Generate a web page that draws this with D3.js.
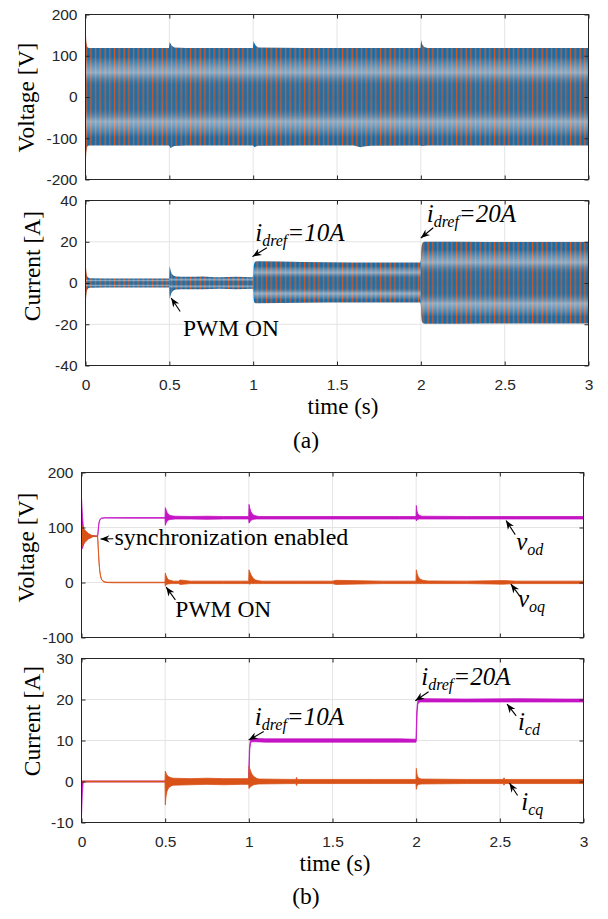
<!DOCTYPE html>
<html>
<head>
<meta charset="utf-8">
<script src="https://cdn.jsdelivr.net/npm/d3@7/dist/d3.min.js"></script>
<style>
  html, body { margin: 0; padding: 0; background: #fff; }
  svg { display: block; }
</style>
</head>
<body>
<svg id="fig" width="608" height="919"></svg>
<script>
// ---------- data ----------
const timeTicks  = [0, 0.5, 1, 1.5, 2, 2.5, 3];
const voltTicksA = [-200, -100, 0, 100, 200];
const currTicksA = [-40, -20, 0, 20, 40];
const voltTicksB = [-100, 0, 100, 200];
const currTicksB = [-10, 0, 10, 20, 30];

// (a) three-phase output voltage: envelope of the 50 Hz waveform (V)
const voltA_t  = [0, 0.005, 0.01, 0.02, 0.25, 0.498, 0.502, 0.508, 0.515, 0.53, 0.6, 0.8, 0.998, 1.002, 1.008, 1.015, 1.03, 1.3, 1.6, 1.64, 1.66, 1.7, 1.998, 2.002, 2.008, 2.02, 2.04, 2.5, 3.0];
const voltA_hi = [168, 135, 121, 118.5, 118.5, 118.5, 133, 129, 124, 120, 118.5, 118.5, 118.5, 135, 130, 125, 120, 118.5, 118.5, 118.5, 118.5, 118.5, 118.5, 138, 128, 121, 119, 118.5, 118.5];
const voltA_lo = [-168, -135, -120, -117.5, -117.5, -117.5, -120, -124, -122, -119, -117.5, -117.5, -117.5, -119, -122, -120, -118, -117.5, -117.5, -122, -120, -118, -117.5, -118, -119, -118, -117.5, -117.5, -117.5];
const voltA_stageStart = [0];
const voltA_stageAmp   = [118];

// (a) three-phase output current: envelope (A)
const curA_t  = [0, 0.005, 0.012, 0.025, 0.2, 0.498, 0.502, 0.508, 0.52, 0.54, 0.6, 0.7, 0.8, 0.9, 0.996, 1.0, 1.003, 1.008, 1.015, 1.03, 1.3, 1.6, 1.9, 1.996, 2.0, 2.003, 2.008, 2.016, 2.03, 2.4, 2.8, 3.0];
const curA_hi = [11, 6, 3, 2.3, 2.2, 2.2, 8, 6, 4, 3.2, 3, 3.2, 2.8, 3, 2.8, 3.5, 8, 9.8, 10.4, 10.5, 10.2, 10, 10, 10, 11, 16, 19, 19.9, 20, 19.9, 19.9, 19.9];
const curA_lo = [-11.5, -6, -3, -2.3, -2.2, -2.2, -7.5, -6, -4, -3.2, -3, -3, -2.8, -3, -2.8, -3.5, -8, -9.5, -9.8, -9.8, -9.6, -9.5, -9.5, -9.5, -10.5, -16, -19, -19.6, -19.8, -19.6, -19.6, -19.6];
const curA_stageStart = [0, 0.5, 1, 2];
const curA_stageAmp   = [2.2, 3, 9.9, 19.8];

// (b) dq voltages (V): upper / lower edge of each trace
const vod_t  = [0, 0.006, 0.012, 0.02, 0.035, 0.05, 0.065, 0.096, 0.099, 0.102, 0.106, 0.111, 0.12, 0.14, 0.3, 0.499, 0.501, 0.506, 0.512, 0.52, 0.53, 0.545, 0.56, 0.65, 0.75, 0.85, 0.95, 0.999, 1.001, 1.006, 1.012, 1.02, 1.03, 1.045, 1.06, 1.3, 1.6, 1.9, 1.999, 2.001, 2.005, 2.01, 2.02, 2.035, 2.3, 2.6, 2.9, 3.0];
const vod_hi = [155, 120, 98, 92, 88, 86, 85, 84.6, 92, 103, 111, 115, 117.2, 117.8, 118, 118, 136, 132, 127, 124, 122, 121, 120.5, 120, 120.5, 120, 120, 120, 142, 135, 129, 125, 122.5, 121, 120, 120, 120, 120, 120, 140, 130, 125, 122, 120.5, 120, 120, 120, 120];
const vod_lo = [60, 62, 68, 75, 80, 82, 83.5, 83.6, 91, 102, 110, 114.5, 116.7, 117.2, 117, 117, 104, 108, 112, 113.5, 114.5, 115, 115.5, 115.5, 115, 115.5, 115.5, 115.5, 108, 110, 113, 114, 115, 115.5, 115.5, 115.5, 115.5, 115.5, 115.5, 112, 114, 115, 115.5, 115.5, 115.5, 115.5, 115.5, 115.5];

const voq_t  = [0, 0.003, 0.012, 0.024, 0.042, 0.06, 0.072, 0.096, 0.099, 0.102, 0.105, 0.109, 0.114, 0.12, 0.13, 0.145, 0.165, 0.2, 0.499, 0.501, 0.505, 0.512, 0.52, 0.535, 0.55, 0.58, 0.59, 0.65, 0.75, 0.85, 0.95, 0.999, 1.001, 1.006, 1.015, 1.025, 1.04, 1.06, 1.08, 1.3, 1.5, 1.52, 1.8, 1.999, 2.001, 2.005, 2.012, 2.022, 2.04, 2.07, 2.3, 2.52, 2.6, 2.9, 3.0];
const voq_hi = [105, 104, 98, 94, 89, 86, 84.8, 84.5, 70, 52, 36, 22, 12, 6, 2.5, 0.9, 0.5, 0.5, 0.5, 17, 13, 8, 5, 3.5, 2.5, 2.5, 4.5, 2.5, 2.5, 2.5, 2.5, 2.5, 23, 19, 13, 8, 4.5, 3, 2.5, 2.5, 2.5, 4, 2.5, 2.5, 23, 17, 11, 6.5, 4, 2.8, 2.5, 3.5, 2.5, 2.5, 2.5];
const voq_lo = [60, 65, 70, 74, 79, 82, 83.8, 83.5, 69, 51, 35, 21, 11, 5, 1.5, 0, -0.3, -0.5, -0.5, -7, -4, -3, -2.5, -2, -2, -2, -3.5, -2, -2, -2, -2, -2, -3, -2.5, -2, -2, -2, -2, -2, -2, -2, -3.5, -2, -2, -2, -2, -2, -2, -2, -2, -2, -3, -2, -2, -2];

// (b) dq currents (A): upper / lower edge of each trace
const icd_t  = [0, 0.005, 0.01, 0.5, 0.6, 0.8, 0.999, 1.001, 1.003, 1.006, 1.01, 1.016, 1.025, 1.04, 1.1, 1.3, 1.6, 1.9, 1.999, 2.001, 2.003, 2.006, 2.01, 2.016, 2.025, 2.04, 2.3, 2.6, 2.9, 3.0];
const icd_hi = [0.1, 0.1, 0.1, 0.1, 0.5, 0.5, 0.5, 4, 7.5, 9.2, 10.1, 10.5, 10.6, 10.5, 10.4, 10.4, 10.4, 10.4, 10.3, 13, 16.5, 18.5, 19.6, 20.1, 20.2, 20.2, 20.1, 20.2, 20.1, 20.1];
const icd_lo = [-8.5, -3, -0.1, -0.1, -0.5, -0.5, -0.5, 0.5, 5, 8, 9.3, 9.7, 9.7, 9.7, 9.6, 9.6, 9.6, 9.6, 9.6, 10, 13, 17, 18.8, 19.3, 19.4, 19.4, 19.4, 19.4, 19.4, 19.4];

const icq_t  = [0, 0.499, 0.501, 0.504, 0.51, 0.52, 0.535, 0.55, 0.65, 0.75, 0.85, 0.95, 0.999, 1.001, 1.005, 1.012, 1.02, 1.03, 1.045, 1.06, 1.28, 1.285, 1.29, 1.75, 1.999, 2.001, 2.004, 2.008, 2.015, 2.03, 2.3, 2.52, 2.525, 2.53, 3.0];
const icq_hi = [0.1, 0.1, 2.5, 2.2, 1.6, 1.2, 0.9, 0.8, 0.7, 0.8, 0.7, 0.7, 0.7, 3.8, 3.2, 2.4, 1.7, 1.2, 0.8, 0.6, 0.5, 1.0, 0.5, 0.5, 0.5, 3.2, 2, 1.3, 0.8, 0.6, 0.5, 0.5, 0.9, 0.5, 0.5];
const icq_lo = [-0.1, -0.1, -5.7, -4, -2.5, -1.6, -1.1, -0.9, -0.8, -0.7, -0.8, -0.7, -0.7, -1.7, -1.5, -1.2, -1, -0.8, -0.7, -0.6, -0.5, -1.0, -0.5, -0.5, -0.5, -1.9, -1.3, -0.9, -0.7, -0.6, -0.5, -0.5, -0.9, -0.5, -0.5];

// ---------- drawing ----------
const svg = d3.select("#fig");
svg.append("rect").attr("width", 608).attr("height", 919).attr("fill", "#fff");
const defs = svg.append("defs");

const C = { blue: "#0072bd", orange: "#d95319", magenta: "#c414c4", axis: "#262626", grid: "#e4e4e4" };
const sansFont = "'Liberation Sans', Arial, Helvetica, sans-serif";
const serifFont = "'Liberation Serif', 'Times New Roman', Times, serif";

// arrow head (MATLAB-like swept head)
defs.append("marker")
  .attr("id", "head").attr("viewBox", "-10 -5 11 10")
  .attr("refX", 0).attr("refY", 0)
  .attr("markerWidth", 11).attr("markerHeight", 10)
  .attr("markerUnits", "userSpaceOnUse").attr("orient", "auto")
  .append("path").attr("d", "M0,0L-9,-3.6L-6.2,0L-9,3.6Z").attr("fill", "#000");

// dense carrier texture: interleaved blue / orange phase strokes
const carrier = defs.append("pattern").attr("id", "carrier")
  .attr("patternUnits", "userSpaceOnUse").attr("width", 19).attr("height", 8);
carrier.append("rect").attr("width", 19).attr("height", 8).attr("fill", "#3d6b93");
[[2.2, 1.6], [7.0, 1.6], [11.9, 1.6], [16.6, 1.6]].forEach(([x, w]) =>
  carrier.append("rect").attr("x", x).attr("width", w).attr("height", 8).attr("fill", C.blue));
[[0, 1.1], [4.6, 1.0], [9.7, 1.1], [14.3, 1.0]].forEach(([x, w]) =>
  carrier.append("rect").attr("x", x).attr("width", w).attr("height", 8).attr("fill", C.orange));

// vertical shading of the band (light rings at half amplitude)
const shadeStops = [
  [0, "#ffffff", 0], [0.09, "#ffffff", 0], [0.25, "#dde5ee", 0.55],
  [0.38, "#6b7f93", 0.12], [0.5, "#56677a", 0.28], [0.62, "#6b7f93", 0.12],
  [0.75, "#dde5ee", 0.55], [0.91, "#ffffff", 0], [1, "#ffffff", 0]
];

const panels = [];
function makePanel(cfg) {
  const x = d3.scaleLinear().domain([0, 3]).range([cfg.left, cfg.right]);
  const y = d3.scaleLinear().domain(cfg.yDomain).range([cfg.bottom, cfg.top]);
  const grid = svg.append("g");
  grid.selectAll("line.gx").data(timeTicks.slice(1, -1)).join("line")
    .attr("x1", d => x(d)).attr("x2", d => x(d))
    .attr("y1", cfg.top).attr("y2", cfg.bottom)
    .attr("stroke", C.grid).attr("stroke-width", 1);
  grid.selectAll("line.gy").data(cfg.yTicks.slice(1, -1)).join("line")
    .attr("y1", d => y(d)).attr("y2", d => y(d))
    .attr("x1", cfg.left).attr("x2", cfg.right)
    .attr("stroke", C.grid).attr("stroke-width", 1);

  const clipId = "clip-" + cfg.id;
  defs.append("clipPath").attr("id", clipId).append("rect")
    .attr("x", cfg.left).attr("y", cfg.top)
    .attr("width", cfg.right - cfg.left).attr("height", cfg.bottom - cfg.top);
  const plot = svg.append("g").attr("clip-path", `url(#${clipId})`);

  const frame = svg.append("g");
  const styleAxis = g => {
    g.select(".domain").remove();
    g.attr("font-family", sansFont).attr("font-size", 15.5);
    g.selectAll("line").attr("stroke", C.axis);
    g.selectAll("text").attr("fill", C.axis);
  };
  frame.append("g").attr("transform", `translate(0,${cfg.bottom})`)
    .call(d3.axisBottom(x).tickValues(timeTicks).tickSizeInner(-4).tickSizeOuter(0)
      .tickPadding(13.5).tickFormat(d => cfg.xLabels ? String(d) : ""))
    .call(styleAxis);
  frame.append("g").attr("transform", `translate(0,${cfg.top})`)
    .call(d3.axisTop(x).tickValues(timeTicks).tickSizeInner(-4).tickSizeOuter(0).tickFormat(() => ""))
    .call(styleAxis);
  frame.append("g").attr("transform", `translate(${cfg.left},0)`)
    .call(d3.axisLeft(y).tickValues(cfg.yTicks).tickSizeInner(-4).tickSizeOuter(0)
      .tickPadding(8).tickFormat(d => String(d)))
    .call(styleAxis);
  frame.append("g").attr("transform", `translate(${cfg.right},0)`)
    .call(d3.axisRight(y).tickValues(cfg.yTicks).tickSizeInner(-4).tickSizeOuter(0).tickFormat(() => ""))
    .call(styleAxis);
  frame.append("rect")
    .attr("x", cfg.left).attr("y", cfg.top)
    .attr("width", cfg.right - cfg.left).attr("height", cfg.bottom - cfg.top)
    .attr("fill", "none").attr("stroke", C.axis).attr("stroke-width", 1);

  frame.append("text")
    .attr("transform", `translate(${cfg.ylabelX},${cfg.ylabelY}) rotate(-90)`)
    .attr("text-anchor", "middle").attr("font-family", serifFont).attr("font-size", 23.5)
    .attr("fill", "#000").text(cfg.ylabel);

  const p = { x, y, plot, frame, cfg };
  panels.push(p);
  return p;
}

const pA1 = makePanel({ id: "a1", left: 85.5, right: 588.5, top: 14.5, bottom: 179.5,
  yDomain: [-200, 200], yTicks: voltTicksA, xLabels: false,
  ylabel: "Voltage [V]", ylabelX: 33.5, ylabelY: 97.5 });
const pA2 = makePanel({ id: "a2", left: 85.5, right: 588.5, top: 200.5, bottom: 365.5,
  yDomain: [-40, 40], yTicks: currTicksA, xLabels: true,
  ylabel: "Current [A]", ylabelX: 39.5, ylabelY: 266 });
const pB1 = makePanel({ id: "b1", left: 81.5, right: 583.5, top: 472.5, bottom: 637.5,
  yDomain: [-100, 200], yTicks: voltTicksB, xLabels: false,
  ylabel: "Voltage [V]", ylabelX: 33.5, ylabelY: 547.5 });
const pB2 = makePanel({ id: "b2", left: 81.5, right: 583.5, top: 658.5, bottom: 822.5,
  yDomain: [-10, 30], yTicks: currTicksB, xLabels: true,
  ylabel: "Current [A]", ylabelX: 40, ylabelY: 721 });

// textured band for the dense three-phase waveforms
function carrierBand(p, id, t, hi, lo, stageStart, stageAmp, curve) {
  const area = d3.area()
    .x((d, i) => p.x(t[i])).y0((d, i) => p.y(lo[i])).y1((d, i) => p.y(hi[i]))
    .curve(curve);
  const dPath = area(t);
  stageStart.forEach((from, k) => {
    const to = k + 1 < stageStart.length ? stageStart[k + 1] : 3;
    const cid = `${id}-stage${k}`;
    defs.append("clipPath").attr("id", cid).append("rect")
      .attr("x", p.x(from) - (k ? 0 : 2)).attr("width", p.x(to) - p.x(from) + (k ? 0 : 2))
      .attr("y", p.cfg.top).attr("height", p.cfg.bottom - p.cfg.top);
    const gid = `${id}-shade${k}`;
    const grad = defs.append("linearGradient").attr("id", gid)
      .attr("gradientUnits", "userSpaceOnUse")
      .attr("x1", 0).attr("x2", 0)
      .attr("y1", p.y(stageAmp[k])).attr("y2", p.y(-stageAmp[k]));
    shadeStops.forEach(([o, c, a]) =>
      grad.append("stop").attr("offset", o).attr("stop-color", c).attr("stop-opacity", a));
    const g = p.plot.append("g").attr("clip-path", `url(#${cid})`);
    g.append("path").attr("d", dPath).attr("fill", "url(#carrier)");
    g.append("path").attr("d", dPath).attr("fill", `url(#${gid})`);
  });
}

// noisy dq trace drawn as a filled band between its edges
function trace(p, t, hi, lo, color, curve) {
  const area = d3.area()
    .x((d, i) => p.x(t[i])).y0((d, i) => p.y(lo[i])).y1((d, i) => p.y(hi[i]))
    .curve(curve || d3.curveLinear);
  p.plot.append("path").attr("d", area(t))
    .attr("fill", color).attr("stroke", color).attr("stroke-width", 0.8)
    .attr("stroke-linejoin", "round");
}

carrierBand(pA1, "va", voltA_t, voltA_hi, voltA_lo, voltA_stageStart, voltA_stageAmp, d3.curveLinear);
carrierBand(pA2, "ia", curA_t, curA_hi, curA_lo, curA_stageStart, curA_stageAmp, d3.curveMonotoneX);

trace(pB1, vod_t, vod_hi, vod_lo, C.magenta);
trace(pB1, voq_t, voq_hi, voq_lo, C.orange);
trace(pB2, icd_t, icd_hi, icd_lo, C.magenta);
trace(pB2, icq_t, icq_hi, icq_lo, C.orange);

// ---------- annotations ----------
function richText(layer, x, y, parts, size) {
  const t = layer.append("text").attr("x", x).attr("y", y)
    .attr("font-family", serifFont).attr("font-size", size).attr("fill", "#000");
  let shift = 0;
  parts.forEach(([s, kind]) => {
    const sp = t.append("tspan").text(s);
    if (kind === "sub") {
      sp.attr("font-size", size * 0.64).attr("font-style", "italic").attr("dy", 5 - shift);
      shift = 5;
    } else {
      if (shift) { sp.attr("dy", -shift); shift = 0; }
      if (kind === "i") sp.attr("font-style", "italic");
    }
  });
}
function note(p, n) {
  const layer = svg.append("g");
  if (n.tip) {
    layer.append("line")
      .attr("x1", p.x(n.tail[0])).attr("y1", p.y(n.tail[1]))
      .attr("x2", p.x(n.tip[0])).attr("y2", p.y(n.tip[1]))
      .attr("stroke", "#000").attr("stroke-width", 1.1)
      .attr("marker-end", "url(#head)");
  }
  richText(layer, p.x(n.at[0]), p.y(n.at[1]), n.parts, n.size || 24);
}

const idref10 = [["i", "i"], ["dref", "sub"], ["=10A", "i"]];
const idref20 = [["i", "i"], ["dref", "sub"], ["=20A", "i"]];

note(pA2, { parts: [["PWM ON", "n"]], at: [0.581, -25.9], tip: [0.511, -7.3], tail: [0.565, -13.8], size: 23.5 });
note(pA2, { parts: idref10, at: [1.012, 20.2], tip: [0.996, 12.8], tail: [1.082, 17.1], size: 25 });
note(pA2, { parts: idref20, at: [2.035, 29.8], tip: [2.0, 21.8], tail: [2.074, 26.8], size: 25 });

note(pB1, { parts: [["synchronization enabled", "n"]], at: [0.197, 68.8], tip: [0.1135, 79.2], tail: [0.19, 79.5], size: 24 });
note(pB1, { parts: [["PWM ON", "n"]], at: [0.561, -62], tip: [0.506, -8.4], tail: [0.561, -31.6], size: 23.5 });
note(pB1, { parts: [["v", "i"], ["od", "sub"]], at: [2.598, 59.7], tip: [2.537, 112.7], tail: [2.592, 87.1], size: 25 });
note(pB1, { parts: [["v", "i"], ["oq", "sub"]], at: [2.608, -43.8], tip: [2.566, -2.9], tail: [2.622, -25.6], size: 25 });

note(pB2, { parts: idref10, at: [1.035, 13.8], tip: [0.999, 10.1], tail: [1.089, 12.2], size: 25 });
note(pB2, { parts: idref20, at: [2.03, 23.5], tip: [1.995, 19.7], tail: [2.074, 21.9], size: 25 });
note(pB2, { parts: [["i", "i"], ["cd", "sub"]], at: [2.608, 12.6], tip: [2.543, 18.9], tail: [2.598, 16], size: 25 });
note(pB2, { parts: [["i", "i"], ["cq", "sub"]], at: [2.628, -6.9], tip: [2.558, -0.4], tail: [2.606, -3.4], size: 25 });

// ---------- axis titles and captions ----------
const titles = svg.append("g").attr("font-family", serifFont)
  .attr("fill", "#000").attr("text-anchor", "middle");
titles.append("text").attr("x", 343).attr("y", 413.5).attr("font-size", 23).text("time (s)");
titles.append("text").attr("x", 306).attr("y", 448).attr("font-size", 23.5).text("(a)");
titles.append("text").attr("x", 335).attr("y", 870.5).attr("font-size", 23).text("time (s)");
titles.append("text").attr("x", 306).attr("y", 904).attr("font-size", 23.5).text("(b)");
</script>
</body>
</html>
